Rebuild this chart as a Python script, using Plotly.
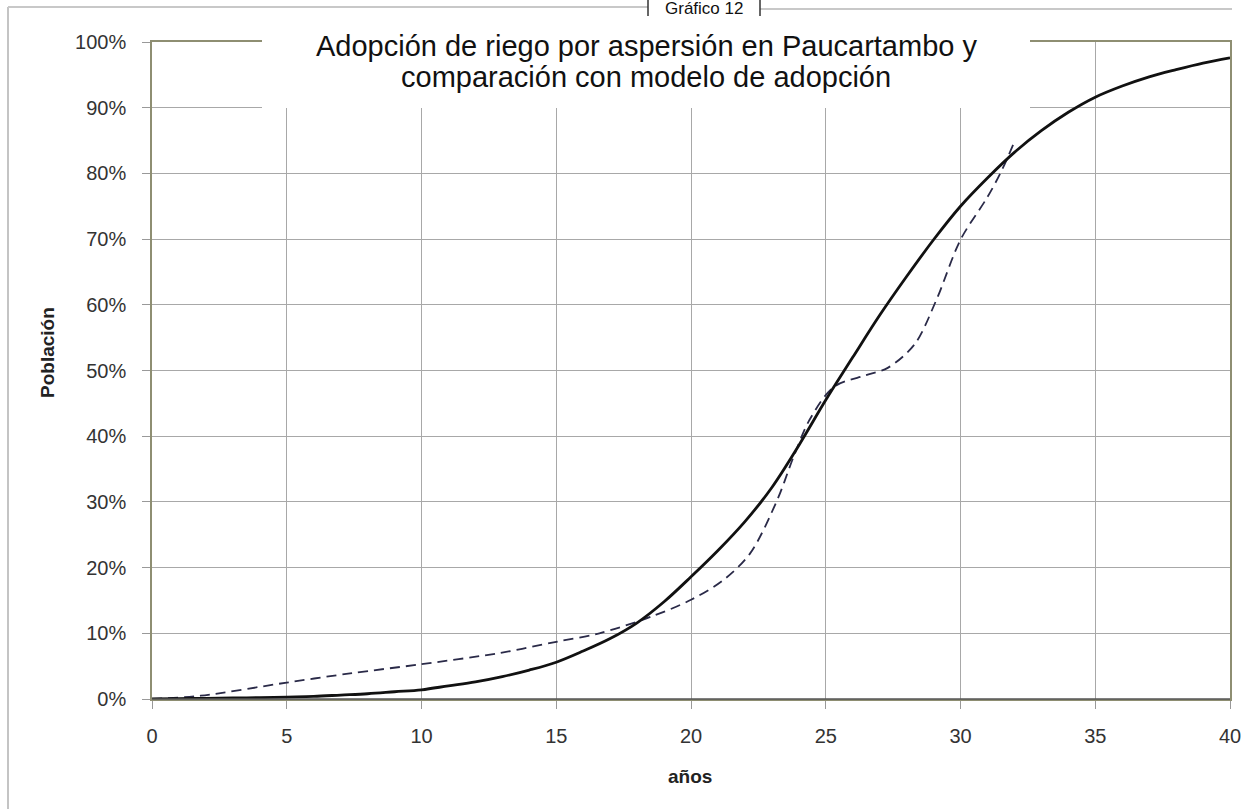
import plotly.graph_objects as go

# Modelo de adopción (curva continua), % de población por año
model_years = list(range(0, 41))
model_pct = [0, 0.05, 0.1, 0.15, 0.2, 0.3, 0.4, 0.6, 0.8, 1.1,
             1.4, 2.0, 2.6, 3.4, 4.4, 5.6, 7.3, 9.2, 11.6, 14.8,
             18.6, 22.6, 27.0, 32.2, 38.6, 45.5, 52.0, 58.4, 64.3, 69.9,
             75.0, 79.3, 83.2, 86.5, 89.3, 91.6, 93.3, 94.7, 95.8, 96.8, 97.6]

# Adopción observada en Paucartambo (curva discontinua)
obs_years = [0, 1.8, 5, 7.35, 10, 12.9, 15, 16.6, 18.5, 20, 21.2, 22.2, 23.2, 23.8, 24.4, 25.3, 26.5, 27.3, 28.3, 29.1, 30, 31, 31.5, 32]
obs_pct = [0, 0.5, 2.5, 3.9, 5.3, 7.0, 8.7, 10.0, 12.5, 15.1, 18.1, 22.2, 30.3, 36.8, 42.5, 47.5, 49.3, 50.4, 54.0, 60.7, 69.9, 76.4, 80.2, 84.8]

x_ticks = [0, 5, 10, 15, 20, 25, 30, 35, 40]
y_ticks = [0, 0.1, 0.2, 0.3, 0.4, 0.5, 0.6, 0.7, 0.8, 0.9, 1.0]
y_labels = ["0%", "10%", "20%", "30%", "40%", "50%", "60%", "70%", "80%", "90%", "100%"]

W, H = 1256, 809
L, R, T, B = 152, 26, 42, 110

fig = go.Figure()
fig.add_trace(go.Scatter(x=obs_years, y=[v / 100 for v in obs_pct], mode="lines",
                         line=dict(color="#2a2a48", width=1.8, dash="10px,6px", shape="spline", smoothing=0.9),
                         showlegend=False, hoverinfo="skip"))
fig.add_trace(go.Scatter(x=model_years, y=[v / 100 for v in model_pct], mode="lines",
                         line=dict(color="#111111", width=2.8, shape="spline", smoothing=1.0),
                         showlegend=False, hoverinfo="skip"))

font = "Arial, Liberation Sans, sans-serif"
olive = "#8e8e72"

fig.update_layout(
    width=W, height=H,
    margin=dict(l=L, r=R, t=T, b=B, autoexpand=False),
    paper_bgcolor="white", plot_bgcolor="white",
    font=dict(family=font, size=20, color="#333333"),
    xaxis=dict(range=[0, 40], tickvals=x_ticks, ticktext=[str(v) for v in x_ticks],
               showgrid=True, gridcolor="#a8a8a8", gridwidth=1, zeroline=False,
               showline=True, linecolor=olive, linewidth=1.5, mirror=True,
               ticks="outside", ticklen=8, tickcolor="#999999",
               ticklabelstandoff=10,
               tickfont=dict(family=font, size=20, color="#333333")),
    yaxis=dict(range=[0, 1], tickvals=y_ticks, ticktext=y_labels,
               showgrid=True, gridcolor="#a8a8a8", gridwidth=1, zeroline=False,
               showline=True, linecolor=olive, linewidth=1.5, mirror=True,
               ticks="outside", ticklen=8, tickcolor="#999999",
               ticklabelstandoff=12,
               tickfont=dict(family=font, size=20, color="#333333")),
)

def px2paper_x(px):
    return (px - L) / (W - L - R)

def px2paper_y(py):
    return (H - B - py) / (H - T - B)

shapes = []
# bottom axis line darker
shapes.append(dict(type="line", xref="paper", yref="paper", x0=0, x1=1, y0=0, y1=0,
                   line=dict(color="#555555", width=1.5)))
# outer frame (left and top)
shapes.append(dict(type="line", xref="paper", yref="paper",
                   x0=px2paper_x(8), x1=px2paper_x(8), y0=px2paper_y(7), y1=px2paper_y(812),
                   line=dict(color="#c4c4c4", width=2)))
shapes.append(dict(type="line", xref="paper", yref="paper",
                   x0=px2paper_x(8), x1=px2paper_x(648), y0=px2paper_y(7), y1=px2paper_y(7),
                   line=dict(color="#c8c8c8", width=2)))
shapes.append(dict(type="line", xref="paper", yref="paper",
                   x0=px2paper_x(760), x1=px2paper_x(1232), y0=px2paper_y(9), y1=px2paper_y(9),
                   line=dict(color="#c8c8c8", width=2)))
# "Gráfico 12" box sides
for xp in (648, 760):
    shapes.append(dict(type="line", xref="paper", yref="paper",
                       x0=px2paper_x(xp), x1=px2paper_x(xp), y0=px2paper_y(-2), y1=px2paper_y(16),
                       line=dict(color="#333333", width=1.5)))
# white title box
shapes.append(dict(type="rect", xref="paper", yref="paper", layer="above",
                   x0=px2paper_x(262), x1=px2paper_x(1030), y0=px2paper_y(108), y1=px2paper_y(27),
                   fillcolor="white", line=dict(width=0)))
fig.update_layout(shapes=shapes)

title_lines = ["Adopción de riego por aspersión en Paucartambo y",
               "comparación con modelo de adopción"]
for txt, yc in zip(title_lines, (46, 77)):
    fig.add_annotation(xref="paper", yref="paper", x=px2paper_x(646), y=px2paper_y(yc),
                       text=txt, showarrow=False, font=dict(family=font, size=29, color="#111111"),
                       xanchor="center", yanchor="middle")
fig.add_annotation(xref="paper", yref="paper", x=px2paper_x(704), y=px2paper_y(9),
                   text="Gráfico 12", showarrow=False, font=dict(family=font, size=17, color="#111111"),
                   xanchor="center", yanchor="middle")
# axis titles
fig.add_annotation(xref="paper", yref="paper", x=px2paper_x(690), y=px2paper_y(776),
                   text="<b>años</b>", showarrow=False, font=dict(family=font, size=19, color="#222222"),
                   xanchor="center", yanchor="middle")
fig.add_annotation(xref="paper", yref="paper", x=px2paper_x(47), y=px2paper_y(353),
                   text="<b>Población</b>", showarrow=False, textangle=-90,
                   font=dict(family=font, size=19, color="#222222"),
                   xanchor="center", yanchor="middle")

fig.write_html("out.html", config={"displayModeBar": False},
               post_script="document.body.style.margin='0';document.body.style.padding='0';")
